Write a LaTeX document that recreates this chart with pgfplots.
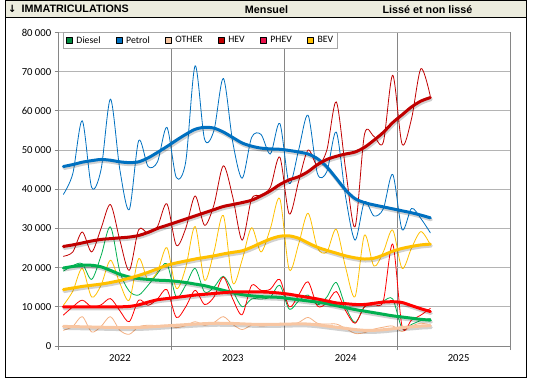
\documentclass[border=0pt]{standalone}
\usepackage{fontspec}
\setmainfont{Carlito}
\newfontfamily\hdrfont{Liberation Sans}
\newfontfamily\arrowfont{DejaVu Sans}
\usepackage{pgfplots}
\pgfplotsset{compat=1.18}
\usepackage{pgfplotstable}

\definecolor{cDiesel}{HTML}{00B050}
\definecolor{cDieselLeg}{HTML}{008A3E}
\definecolor{cPetrol}{HTML}{0070C0}
\definecolor{cOther}{HTML}{F4B183}
\definecolor{cOtherThick}{HTML}{F8C6A2}
\definecolor{cHEV}{HTML}{C00000}
\definecolor{cPHEV}{HTML}{FF0000}
\definecolor{cPHEVLeg}{HTML}{E8124A}
\definecolor{cBEV}{HTML}{FFC000}
\definecolor{hdrbg}{RGB}{236,236,222}
\definecolor{gridc}{HTML}{B4B4B4}
\definecolor{axc}{HTML}{868686}

\pgfplotstableread{
x Diesel Petrol Other HEV PHEV BEV
0.5 19100 38700 4000 22900 7900 10400
1.5 20500 44000 5000 24000 10000 14000
2.5 21000 57500 7500 29100 11700 19800
3.5 17000 40500 3600 24000 10000 12500
4.5 23000 45000 5000 30000 10500 15500
5.5 30400 63000 7500 36100 12100 21900
6.5 19000 45000 4000 27000 9000 16000
7.5 14000 34800 3000 19300 6200 11700
8.5 13000 52400 4900 29700 11700 22300
9.5 15500 45800 5300 28800 10400 16800
10.5 18500 47000 5200 30500 12000 19000
11.5 21000 55800 5300 36300 14400 25100
12.5 12500 43000 4700 25700 7300 14700
13.5 15500 47000 5200 30000 10000 20000
14.5 19800 71500 6200 38300 14200 30500
15.5 13800 52800 5300 30800 10600 16800
16.5 15000 55000 6000 36000 12500 24000
17.5 17800 68300 7500 46000 17600 33300
18.5 14000 52000 5500 38000 12000 16100
19.5 10000 42800 4200 27000 8000 22000
20.5 12000 53200 5300 37500 15500 30200
21.5 12000 54000 5100 38500 14200 24000
22.5 12500 49000 5300 40500 14500 30000
23.5 15500 56800 5800 48200 17000 37600
24.5 9400 41500 5400 33700 10000 19500
25.5 11500 50000 6000 42000 13000 26000
26.5 13000 58900 7300 50000 16400 33900
27.5 10500 44000 5800 46000 10200 25000
28.5 12500 44500 5600 50000 11000 24000
29.5 16200 54600 5600 62300 13900 29800
30.5 10000 38000 4500 45000 9000 20000
31.5 6000 27000 3200 30400 5800 12600
32.5 10000 36800 3400 54000 10000 28300
33.5 10900 33200 4300 53500 10500 20400
34.5 11500 35000 4800 52000 11500 24000
35.5 12000 43800 5100 69100 26000 29600
36.5 4500 29700 3700 51500 4900 19800
37.5 5500 35100 5100 58000 6600 25000
38.5 6500 32500 5800 70800 7900 29200
39.5 7000 28900 5400 63700 9600 25800
}\monthly

\pgfplotstableread{
x Diesel Petrol Other HEV PHEV BEV
0.5 19900 45800 5000 25400 10000 14400
1.5 20300 46300 4950 25800 10000 14800
2.5 20600 46900 4900 26300 10000 15200
3.5 20600 47300 4850 26800 10000 15500
4.5 20200 47600 4800 27200 10000 15800
5.5 19300 47400 4750 27400 10000 16200
6.5 18300 47000 4700 27600 10000 16700
7.5 17600 46800 4700 27800 10100 17300
8.5 17200 47000 4750 28200 10500 18000
9.5 17000 48000 4850 29000 11200 18800
10.5 16800 49400 5000 30000 11800 19700
11.5 16700 50900 5150 30800 12100 20600
12.5 16500 52500 5300 31600 12400 21200
13.5 16200 54000 5450 32400 12700 21700
14.5 15800 55300 5600 33200 13000 22200
15.5 15400 55800 5700 34000 13200 22600
16.5 14800 55600 5800 34800 13400 23000
17.5 14200 54600 5800 35600 13600 23500
18.5 13600 53200 5750 36100 13800 23900
19.5 13100 51800 5650 36600 13800 24300
20.5 12800 51000 5550 37200 13800 25200
21.5 12600 50500 5500 38300 13800 26300
22.5 12500 50300 5500 39600 13700 27300
23.5 12400 50200 5550 41200 13500 28000
24.5 12100 49900 5600 42400 13200 28100
25.5 11800 49500 5650 43200 12800 27500
26.5 11500 49000 5600 44500 12400 26300
27.5 11200 47800 5400 46300 12000 25200
28.5 10800 45700 5100 47600 11500 24400
29.5 10300 42800 4800 48400 11000 23700
30.5 9800 39800 4500 49000 10800 23000
31.5 9300 37600 4200 49500 10600 22500
32.5 8900 36600 4000 50700 10600 22200
33.5 8500 36000 4000 52500 10900 22400
34.5 8100 35500 4150 54500 11200 23200
35.5 7700 35000 4400 57000 11300 24200
36.5 7400 34500 4700 59000 11100 24900
37.5 7100 34000 4900 61000 10300 25400
38.5 6800 33400 5100 62500 9500 25800
39.5 6600 32700 5200 63400 8800 26000
}\smoothed

\begin{document}
\begin{tikzpicture}[x=1bp,y=1bp]
\useasboundingbox (0,0) rectangle (535,382);
\fill[hdrbg] (5.5,364.5) rectangle (526.5,381.2);
\draw[black, line width=0.8bp] (5.5,364.5) -- (526.5,364.5);
\draw[black, line width=1.2bp] (5.5,4.5) rectangle (526.5,381.2);
\node[anchor=west, inner sep=0] at (8,372.8) {\arrowfont\fontsize{10}{12}\selectfont\bfseries ↓};
\node[anchor=west, inner sep=0] at (21.5,372.8) {\hdrfont\fontsize{10.8}{12}\selectfont\bfseries IMMATRICULATIONS};
\node[anchor=center, inner sep=0] at (266.5,372.8) {\hdrfont\fontsize{10.8}{12}\selectfont\bfseries Mensuel};
\node[anchor=center, inner sep=0] at (427.5,372.8) {\hdrfont\fontsize{10.8}{12}\selectfont\bfseries Lissé et non lissé};

\begin{axis}[
  at={(58.7bp,36bp)}, anchor=origin,
  scale only axis, width=451.6bp, height=313.5bp,
  xmin=0, xmax=48, ymin=0, ymax=80000,
  scaled y ticks=false,
  axis x line*=bottom, axis y line*=left,
  axis line style={draw=axc, line width=0.8bp},
  tick align=outside, major tick length=4bp,
  tick style={draw=axc, line width=0.8bp},
  xtick={0,12,24,36,48},
  xticklabels={2022,2023,2024,2025,},
  xticklabel style={xshift=61.2bp, yshift=-1bp},
  ytick={0,10000,20000,30000,40000,50000,60000,70000,80000},
  yticklabels={0,10 000,20 000,30 000,40 000,50 000,60 000,70 000,80 000},
  ticklabel style={font=\fontsize{10.7}{12}\selectfont},
  xmajorgrids, ymajorgrids,
  x grid style={draw=axc, line width=0.8bp},
  y grid style={draw=gridc, line width=0.8bp},
  legend columns=-1,
  legend image code/.code={\fill[#1] (0bp,-2.8bp) rectangle (5.6bp,2.8bp);},
  legend style={at={(rel axis cs:0.0095,1)}, anchor=north west,
    draw=gray!70, fill=white, line width=0.6bp,
    font=\fontsize{9.8}{11}\selectfont,
    inner xsep=3bp, inner ysep=2bp,
    nodes={inner sep=1.5bp},
    /tikz/every odd column/.append style={column sep=2.5bp},
    /tikz/every even column/.append style={column sep=14bp}},
  every axis plot/.append style={line cap=round, line join=round},
]
% thin monthly lines
\addplot[forget plot, smooth, cDiesel, line width=0.8bp] table[x=x,y=Diesel] {\monthly};
\addplot[forget plot, smooth, cPetrol, line width=0.8bp] table[x=x,y=Petrol] {\monthly};
\addplot[forget plot, smooth, cOther, line width=0.8bp] table[x=x,y=Other] {\monthly};
\addplot[forget plot, smooth, cHEV, line width=0.8bp] table[x=x,y=HEV] {\monthly};
\addplot[forget plot, smooth, cPHEV, line width=0.8bp] table[x=x,y=PHEV] {\monthly};
\addplot[forget plot, smooth, cBEV, line width=0.8bp] table[x=x,y=BEV] {\monthly};
% shadows of smoothed lines
\foreach \s in {Diesel,Petrol,Other,HEV,PHEV,BEV}{
  \addplot[forget plot, smooth, black, opacity=0.18, line width=3.4bp, xshift=0.8bp, yshift=-1.8bp] table[x=x,y=\s] {\smoothed};
}
% smoothed lines
\addplot[forget plot, smooth, cDiesel, line width=3bp] table[x=x,y=Diesel] {\smoothed};
\addplot[forget plot, smooth, cPetrol, line width=3bp] table[x=x,y=Petrol] {\smoothed};
\addplot[forget plot, smooth, cOtherThick, line width=3bp] table[x=x,y=Other] {\smoothed};
\addplot[forget plot, smooth, cHEV, line width=3bp] table[x=x,y=HEV] {\smoothed};
\addplot[forget plot, smooth, cPHEV, line width=3bp] table[x=x,y=PHEV] {\smoothed};
\addplot[forget plot, smooth, cBEV, line width=3bp] table[x=x,y=BEV] {\smoothed};
% legend
\addlegendimage{fill=cDieselLeg}\addlegendentry{Diesel}
\addlegendimage{fill=cPetrol}\addlegendentry{Petrol}
\addlegendimage{fill=cOtherThick}\addlegendentry{OTHER}
\addlegendimage{fill=cHEV}\addlegendentry{HEV}
\addlegendimage{fill=cPHEVLeg}\addlegendentry{PHEV}
\addlegendimage{fill=cBEV}\addlegendentry{BEV}
\end{axis}
\end{tikzpicture}
\end{document}
